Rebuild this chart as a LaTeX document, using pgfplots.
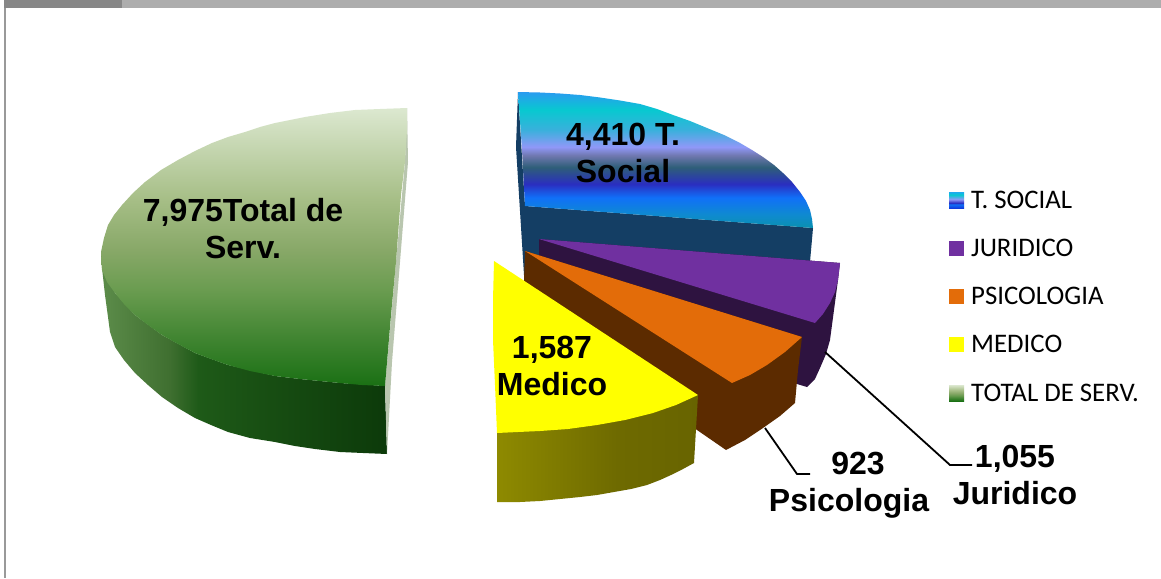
\documentclass[border=0pt]{standalone}
\usepackage{fontspec}
\setmainfont{Liberation Sans}
\newfontfamily\legendfont{Carlito}
\usepackage{pgfplots}
\pgfplotsset{compat=1.18}

\definecolor{socialside}{HTML}{143E64}
\definecolor{jurtop}{HTML}{7030A0}
\definecolor{jurside}{HTML}{2E1340}
\definecolor{psitop}{HTML}{E36C09}
\definecolor{psiside}{HTML}{5C2B00}
\definecolor{medtop}{HTML}{FFFF00}
\definecolor{totedge}{HTML}{B9C6AF}

% shading stops
\definecolor{sa}{HTML}{0A90B0}
\definecolor{sb}{HTML}{0F8AD0}
\definecolor{sc}{HTML}{1070F8}
\definecolor{sd}{HTML}{2A2EC0}
\definecolor{se}{HTML}{2E5E78}
\definecolor{sf}{HTML}{7078B0}
\definecolor{sg}{HTML}{9098F8}
\definecolor{sh}{HTML}{3AB0DC}
\definecolor{si}{HTML}{08C8D0}
\definecolor{sj}{HTML}{2A9BF0}
\definecolor{ka}{HTML}{103CDC}
\definecolor{kb}{HTML}{1EAAF0}
\definecolor{ta}{HTML}{1A7014}
\definecolor{tb}{HTML}{3F8430}
\definecolor{tc}{HTML}{6A9C50}
\definecolor{te}{HTML}{88A868}
\definecolor{tf}{HTML}{A6BE86}
\definecolor{td}{HTML}{DCE8D0}
\definecolor{ua}{HTML}{5A8A48}
\definecolor{ub}{HTML}{3F6F30}
\definecolor{ue}{HTML}{1E5A18}
\definecolor{uc}{HTML}{174D12}
\definecolor{ud}{HTML}{0C3A0A}
\definecolor{ma}{HTML}{8E8A00}
\definecolor{mb}{HTML}{6E6A00}
\definecolor{mc}{HTML}{686400}

\tikzset{
  datalabel/.style={font=\bfseries\fontsize{32}{37}\selectfont, align=center, text=black, inner sep=0pt},
  keytext/.style={font=\legendfont\fontsize{26.8}{30}\selectfont, anchor=west, text=black, inner sep=0pt},
  lead/.style={draw=black, line width=1.8pt},
}

\pgfdeclareverticalshading{socialtop}{100bp}{
  color(0bp)=(sa); color(25bp)=(sa); color(30bp)=(sb); color(36.2bp)=(sc);
  color(41.1bp)=(sd); color(47.3bp)=(se); color(51.7bp)=(sf); color(54.8bp)=(sg);
  color(61bp)=(sh); color(68.4bp)=(si); color(75bp)=(sj); color(100bp)=(sj)}
\pgfdeclareverticalshading{socialkey}{100bp}{
  color(0bp)=(ka); color(25bp)=(ka); color(36bp)=(sc); color(41bp)=(sd);
  color(52bp)=(sg); color(66bp)=(si); color(75bp)=(kb); color(100bp)=(kb)}
\pgfdeclareverticalshading{totaltop}{100bp}{
  color(0bp)=(ta); color(25bp)=(ta); color(33.3bp)=(tb); color(42.3bp)=(tc);
  color(49.5bp)=(te); color(58.5bp)=(tf); color(75bp)=(td); color(100bp)=(td)}
\pgfdeclarehorizontalshading{totalside}{100bp}{
  color(0bp)=(ua); color(26bp)=(ua); color(37bp)=(ub); color(42bp)=(ue); color(55bp)=(uc);
  color(75bp)=(ud); color(100bp)=(ud)}
\pgfdeclarehorizontalshading{medside}{100bp}{
  color(0bp)=(ma); color(25bp)=(ma); color(55bp)=(mb); color(75bp)=(mc); color(100bp)=(mc)}

\begin{document}
\begin{tikzpicture}
\begin{axis}[
    scale only axis,
    width=1161pt,
    height=578pt,
    xmin=0, xmax=1161,
    ymin=0, ymax=578,
    y dir=reverse,
    hide axis,
    clip=true,
]
% frame
\addplot[fill=white, draw=none] coordinates {(0,0) (1161,0) (1161,578) (0,578)} -- cycle;
\addplot[fill=black!47, draw=none] coordinates {(4,0) (122,0) (122,8) (4,8)} -- cycle;
\addplot[fill=black!32, draw=none] coordinates {(122,0) (1161,0) (1161,8) (122,8)} -- cycle;
\addplot[fill=black!40, draw=none] coordinates {(4,8) (6,8) (6,578) (4,578)} -- cycle;

% total de serv.
\addplot[shade, shading=totalside, draw=none] coordinates {
  (101,252) (115,293) (135,315) (162,335) (195,353) (228,365) (275,376) (300,379) (340,383) (385,386)
  (387,454) (363,453) (340,452) (315,449) (295,446) (275,442) (250,438) (228,432) (211,425) (195,418) (178,408)
  (162,397) (148,385) (135,373) (124,360) (115,347) (110,332) (108,317) (105,295) (102,268)} -- cycle;
\addplot[fill=totedge, draw=none] coordinates {
  (407,108) (408,162) (400,262) (392,362) (387,454) (385,386) (396,262) (405,162)} -- cycle;
\addplot[shade, shading=totaltop, draw=none] coordinates {
  (407,108) (380,109) (355,110) (330,113) (305,117) (275,123) (260,127) (245,132) (228,137) (212,143)
  (195,151) (178,160) (161,170) (145,182) (133,193) (122,205) (114,215) (108,225) (104,238) (101,252)
  (102,270) (107,282) (115,293) (124,304) (135,315) (148,325) (162,335) (178,344) (195,353) (211,359) (228,365)
  (250,371) (275,376) (300,379) (340,383) (362,385) (385,386) (391,315) (396,262) (401,195) (405,162) (407,130)} -- cycle;

% t. social
\addplot[fill=socialside, draw=none] coordinates {
  (518,92) (516,147) (524,275) (700,275) (810,262) (813,228) (525,206)} -- cycle;
\addplot[shade, shading=socialtop, draw=none] coordinates {
  (518,92) (540,92.5) (560,93.5) (580,95) (600,97.5) (620,100.5) (640,104) (657,109) (673,115) (690,121)
  (707,128) (724,135) (740,143) (752,150) (763,157) (774,165) (783,173) (792,182) (800,192) (806,201)
  (810,210) (812,219) (813,228) (525,206) (522,150)} -- cycle;

% juridico
\addplot[fill=jurside, draw=none] coordinates {
  (539,239) (539,258) (797,384) (807,387) (815,379) (820,368) (826,354) (830,340) (834,310) (838,280) (840,263)} -- cycle;
\addplot[fill=jurtop, draw=none] coordinates {
  (539,239) (840,263) (838,280) (835,292) (830,303) (823,314) (815,323)} -- cycle;

% psicologia
\addplot[fill=psiside, draw=none] coordinates {
  (525,251) (524,281) (600,340) (697,430) (726,450) (745,440) (763,428) (780,416) (795,403) (798,370) (802,337)} -- cycle;
\addplot[fill=psitop, draw=none] coordinates {
  (525,251) (802,337) (785,352) (767,365) (750,375) (732,383)} -- cycle;

% medico
\addplot[shade, shading=medside, draw=none] coordinates {
  (497,433) (698,395) (694,463) (683,469) (671,475) (660,480) (647,485) (631,489) (614,492) (597,495)
  (580,497) (560,499) (540,501) (520,502) (497,502)} -- cycle;
\addplot[fill=medtop, draw=none] coordinates {
  (494,261) (698,395) (676,405) (653,413) (625,420) (597,425) (568,429) (540,431) (518,432) (497,433) (495,385) (493,340) (493,300)} -- cycle;

% leader lines
\addplot[lead] coordinates {(825,352) (950,465) (972,465)};
\addplot[lead] coordinates {(765,428) (797,474) (810,474)};

% key
\addplot[shade, shading=socialkey, draw=none] coordinates {(949,192) (964,192) (964,208) (949,208)} -- cycle;
\addplot[fill=jurtop, draw=none] coordinates {(949,241) (964,241) (964,256) (949,256)} -- cycle;
\addplot[fill=psitop, draw=none] coordinates {(949,289) (964,289) (964,304) (949,304)} -- cycle;
\addplot[fill=medtop, draw=none] coordinates {(949,337) (964,337) (964,352) (949,352)} -- cycle;
\addplot[shade, shading=totaltop, draw=none] coordinates {(949,385) (964,385) (964,401) (949,401)} -- cycle;

\node[keytext] at (axis cs:971,200) {T. SOCIAL};
\node[keytext] at (axis cs:971,248) {JURIDICO};
\node[keytext] at (axis cs:971,296) {PSICOLOGIA};
\node[keytext] at (axis cs:971,344) {MEDICO};
\node[keytext] at (axis cs:971,393) {TOTAL DE SERV.};

\node[datalabel] at (axis cs:623,153) {4,410 T.\\Social};
\node[datalabel] at (axis cs:243,229) {7,975Total de\\Serv.};
\node[datalabel] at (axis cs:552,366) {1,587\\Medico};
\node[datalabel] at (axis cs:849,485) {\hspace*{18pt}923\\Psicologia};
\node[datalabel] at (axis cs:1015,475) {1,055\\Juridico};
\end{axis}
\end{tikzpicture}
\end{document}
